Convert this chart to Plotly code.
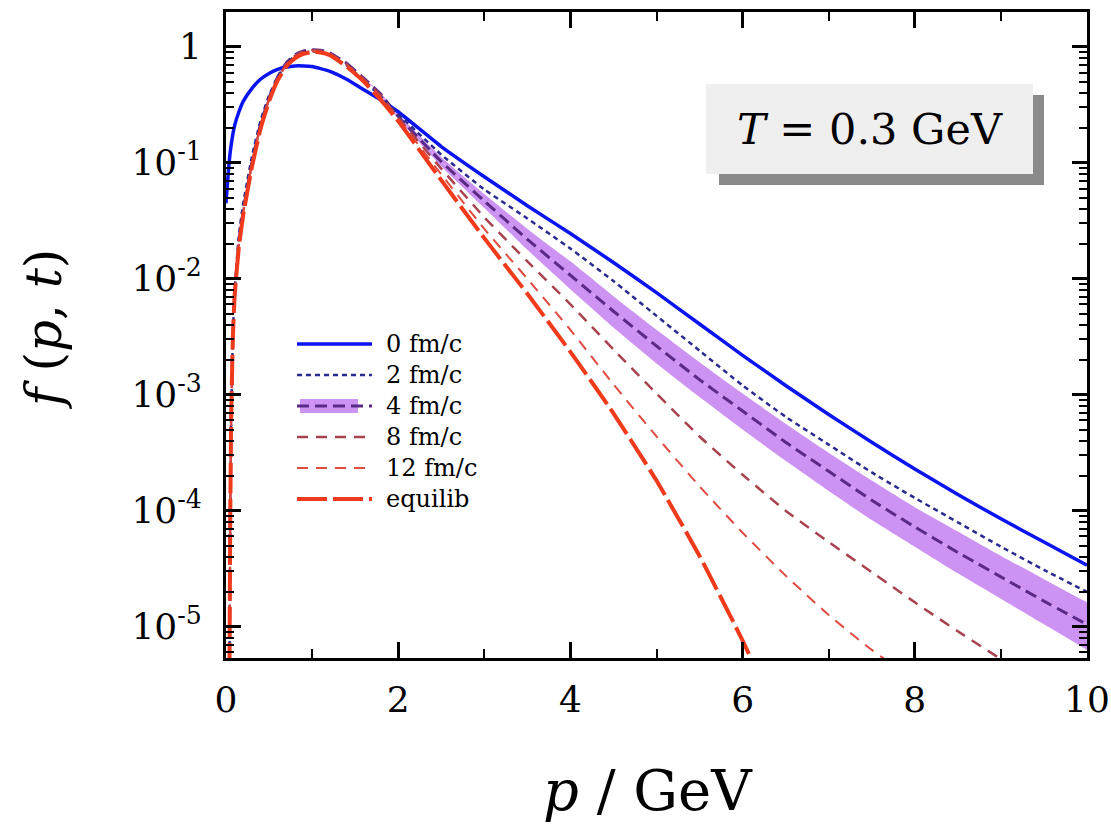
import plotly.graph_objects as go

# ---------------- data (log10 of f) ----------------
p_blue = [0.0, 0.03, 0.05, 0.1, 0.15, 0.2, 0.3, 0.4, 0.5, 0.6, 0.7, 0.8, 0.9, 1.0, 1.2, 1.4, 1.6, 1.8,
          2.0, 2.5, 3.0, 3.5, 4.0, 4.5, 5.0, 5.5, 6.0, 6.5, 7.0, 7.5, 8.0, 8.5, 9.0, 9.5, 10.0]
logf_0fm = [-1.35, -1.05, -0.90, -0.68, -0.56, -0.47, -0.36, -0.28, -0.23, -0.195, -0.175, -0.165, -0.165,
            -0.17, -0.21, -0.28, -0.37, -0.46, -0.56, -0.86, -1.12, -1.37, -1.61, -1.86, -2.12, -2.39,
            -2.66, -2.92, -3.17, -3.41, -3.64, -3.86, -4.07, -4.27, -4.47]

p_grid = [0.04, 0.05, 0.06, 0.08, 0.1, 0.15, 0.2, 0.3, 0.4, 0.5, 0.6, 0.7, 0.8, 0.9, 1.0, 1.1, 1.2, 1.4,
          1.6, 1.8, 2.0, 2.5, 3.0, 3.5, 4.0, 4.5, 5.0, 5.5, 6.0, 6.5, 7.0, 7.5, 8.0, 8.5, 9.0, 9.5, 10.0]
logf_2fm = [-5.4, -4.0, -3.2, -2.5, -2.1, -1.62, -1.35, -0.95, -0.64, -0.42, -0.26, -0.15, -0.08, -0.05,
            -0.04, -0.045, -0.07, -0.16, -0.29, -0.43, -0.58, -0.93, -1.23, -1.48, -1.74, -2.02, -2.32,
            -2.62, -2.92, -3.19, -3.43, -3.67, -3.89, -4.10, -4.31, -4.51, -4.70]
logf_4fm_low = [-5.4, -4.0, -3.2, -2.5, -2.15, -1.68, -1.41, -1.00, -0.67, -0.44, -0.26, -0.14, -0.07,
                -0.035, -0.025, -0.03, -0.05, -0.14]
logf_8fm = [-5.4, -4.0, -3.2, -2.5, -2.15, -1.69, -1.42, -1.01, -0.68, -0.45, -0.27, -0.15, -0.08, -0.04,
            -0.03, -0.035, -0.055, -0.15, -0.28, -0.42, -0.61, -1.05, -1.47, -1.85, -2.22, -2.61, -2.99,
            -3.36, -3.69, -4.00, -4.27, -4.53, -4.79, -5.04, -5.28, -5.52, -5.76]
logf_12fm = [-5.4, -4.0, -3.2, -2.5, -2.15, -1.70, -1.43, -1.02, -0.69, -0.46, -0.28, -0.16, -0.09, -0.05,
             -0.04, -0.045, -0.065, -0.16, -0.29, -0.44, -0.62, -1.10, -1.57, -2.00, -2.44, -2.91, -3.36,
             -3.79, -4.19, -4.56, -4.90, -5.20, -5.46, -5.70, -5.93, -6.15, -6.37]
p_eq = [0.04, 0.05, 0.06, 0.08, 0.1, 0.15, 0.2, 0.3, 0.4, 0.5, 0.6, 0.7, 0.8, 0.9, 1.0, 1.1, 1.2, 1.4,
        1.6, 1.8, 2.0, 2.5, 3.0, 3.5, 4.0, 4.5, 5.0, 5.5, 6.0, 6.5]
logf_eq = [-5.4, -4.0, -3.2, -2.5, -2.15, -1.72, -1.45, -1.04, -0.71, -0.47, -0.29, -0.17, -0.10, -0.06,
           -0.045, -0.05, -0.07, -0.17, -0.30, -0.46, -0.64, -1.15, -1.65, -2.13, -2.63, -3.16, -3.74,
           -4.39, -5.12, -5.92]

# 4 fm/c central curve and its uncertainty band
p_band = [1.4, 1.6, 1.8, 2.0, 2.5, 3.0, 3.5, 4.0, 4.5, 5.0, 5.5, 6.0, 6.5, 7.0, 7.5, 8.0, 8.5, 9.0, 9.5, 10.0]
logf_4fm = [-0.14, -0.27, -0.41, -0.60, -0.99, -1.33, -1.66, -1.97, -2.28, -2.58, -2.87, -3.14, -3.41,
            -3.66, -3.91, -4.14, -4.36, -4.57, -4.78, -4.98]
logf_4fm_up = [-0.14, -0.27, -0.40, -0.58, -0.95, -1.27, -1.57, -1.85, -2.15, -2.44, -2.72, -2.99, -3.25,
               -3.50, -3.74, -3.97, -4.18, -4.39, -4.59, -4.79]
logf_4fm_lo = [-0.14, -0.27, -0.42, -0.62, -1.03, -1.39, -1.75, -2.09, -2.42, -2.73, -3.02, -3.30, -3.57,
               -3.83, -4.08, -4.31, -4.54, -4.76, -4.98, -5.20]

series_names = ["0 fm/c", "2 fm/c", "4 fm/c", "8 fm/c", "12 fm/c", "equilib"]
y_tickvals = [1, 1e-1, 1e-2, 1e-3, 1e-4, 1e-5]
y_ticktext = ["1", "10<sup>-1</sup>", "10<sup>-2</sup>", "10<sup>-3</sup>", "10<sup>-4</sup>", "10<sup>-5</sup>"]
x_tickvals = [0, 2, 4, 6, 8, 10]


def lin(vals):
    return [10 ** v for v in vals]


FONT = "DejaVu Serif"
BAND = "rgba(196,128,240,0.85)"

STYLES = {
    "0 fm/c": ("#0a14f0", 3.5, "solid"),
    "2 fm/c": ("#2a2a90", 2.5, "5px,4px"),
    "4 fm/c": ("#5b2a86", 3, "12px,6px"),
    "8 fm/c": ("#a8424f", 2.5, "11px,8px"),
    "12 fm/c": ("#e04a40", 2, "11px,8px"),
    "equilib": ("#f03a1c", 4, "30px,6px"),
}


def ln(name, smooth=True):
    c, w, d = STYLES[name]
    out = dict(color=c, width=w, dash=d)
    if smooth:
        out.update(shape="spline", smoothing=0.4)
    return out


fig = go.Figure()

fig.add_trace(go.Scatter(x=p_band, y=lin(logf_4fm_lo), mode="lines",
                         line=dict(width=0, color=BAND, shape="spline", smoothing=0.4),
                         showlegend=False, hoverinfo="skip"))
fig.add_trace(go.Scatter(x=p_band, y=lin(logf_4fm), mode="lines", name="4 fm/c", fill="tonexty",
                         fillcolor=BAND, line=ln("4 fm/c"), showlegend=False))
fig.add_trace(go.Scatter(x=p_band, y=lin(logf_4fm_up), mode="lines",
                         line=dict(width=0, color=BAND, shape="spline", smoothing=0.4),
                         fill="tonexty", fillcolor=BAND, showlegend=False, hoverinfo="skip"))
fig.add_trace(go.Scatter(x=p_grid[:len(logf_4fm_low)], y=lin(logf_4fm_low), mode="lines",
                         line=ln("4 fm/c"), showlegend=False, name="4 fm/c"))
fig.add_trace(go.Scatter(x=p_blue, y=lin(logf_0fm), mode="lines", name="0 fm/c", line=ln("0 fm/c"),
                         showlegend=False))
fig.add_trace(go.Scatter(x=p_grid, y=lin(logf_2fm), mode="lines", name="2 fm/c", line=ln("2 fm/c"),
                         showlegend=False))
fig.add_trace(go.Scatter(x=p_grid, y=lin(logf_8fm), mode="lines", name="8 fm/c", line=ln("8 fm/c"),
                         showlegend=False))
fig.add_trace(go.Scatter(x=p_grid, y=lin(logf_12fm), mode="lines", name="12 fm/c", line=ln("12 fm/c"),
                         showlegend=False))
fig.add_trace(go.Scatter(x=p_eq, y=lin(logf_eq), mode="lines", name="equilib", line=ln("equilib"),
                         showlegend=False))

# the page body margin is removed (post_script below), so page pixels == figure pixels
W, H = 1111, 832
PLOT_L, PLOT_R, PLOT_T, PLOT_B = 226, 1087, 12, 658      # plot frame in page pixels
L, R, T, B = PLOT_L, W - PLOT_R, PLOT_T, H - PLOT_B


def px_x(px):
    return (px - PLOT_L) / (PLOT_R - PLOT_L)


def px_y(py):
    return (PLOT_B - py) / (PLOT_B - PLOT_T)


shapes = [
    dict(type="rect", xref="paper", yref="paper", x0=px_x(719), x1=px_x(1044), y0=px_y(185),
         y1=px_y(95), fillcolor="#8a8a8a", line=dict(width=0), layer="above"),
    dict(type="rect", xref="paper", yref="paper", x0=px_x(706), x1=px_x(1033), y0=px_y(174),
         y1=px_y(84), fillcolor="#efefef", line=dict(width=0), layer="above"),
]
annotations = [
    dict(text="<i>T</i> = 0.3 GeV", xref="paper", yref="paper", x=px_x(870), y=px_y(129),
         xanchor="center", yanchor="middle", showarrow=False,
         font=dict(family=FONT, size=43, color="black")),
    dict(text="<i>p</i> / GeV", xref="paper", yref="paper", x=px_x(648), y=px_y(790),
         xanchor="center", yanchor="middle", showarrow=False,
         font=dict(family=FONT, size=56, color="black")),
    dict(text="<i>f</i> (<i>p</i>, <i>t</i>)", xref="paper", yref="paper", x=px_x(44),
         y=px_y(330), xanchor="center", yanchor="middle", showarrow=False, textangle=-90,
         font=dict(family=FONT, size=50, color="black")),
]

leg_x0, leg_x1, leg_text_x = 297, 372, 384
leg_y0, leg_pitch = 344, 31
for i, name in enumerate(series_names):
    yy = px_y(leg_y0 + i * leg_pitch)
    if name == "4 fm/c":
        shapes.append(dict(type="rect", xref="paper", yref="paper", x0=px_x(300), x1=px_x(358),
                           y0=yy - 7 / (PLOT_B - PLOT_T), y1=yy + 7 / (PLOT_B - PLOT_T),
                           fillcolor=BAND, line=dict(width=0), layer="above"))
    c, w, d = STYLES[name]
    shapes.append(dict(type="line", xref="paper", yref="paper", x0=px_x(leg_x0), x1=px_x(leg_x1),
                       y0=yy, y1=yy, line=dict(color=c, width=w, dash=d), layer="above"))
    annotations.append(dict(text=name, xref="paper", yref="paper", x=px_x(leg_text_x), y=yy,
                            xanchor="left", yanchor="middle", showarrow=False,
                            font=dict(family=FONT, size=24, color="black")))

fig.update_layout(
    width=W, height=H,
    margin=dict(l=L, r=R, t=T, b=B, autoexpand=False),
    paper_bgcolor="white", plot_bgcolor="white",
    font=dict(family=FONT, color="black"),
    showlegend=False,
    xaxis=dict(range=[0, 10], tickvals=x_tickvals, ticks="inside", ticklen=16, tickwidth=2.5,
               tickcolor="black", showline=True, linecolor="black", linewidth=3, mirror="allticks",
               showgrid=False, zeroline=False, tickfont=dict(family=FONT, size=36),
               ticklabelstandoff=8,
               minor=dict(dtick=1, ticks="inside", ticklen=9, tickwidth=2, tickcolor="black",
                          showgrid=False)),
    yaxis=dict(type="log", range=[-5.27, 0.30], tickvals=y_tickvals, ticktext=y_ticktext,
               ticks="inside", ticklen=15, tickwidth=2.5, tickcolor="black", showline=True,
               linecolor="black", linewidth=3, mirror="allticks", showgrid=False, zeroline=False,
               tickfont=dict(family=FONT, size=36), ticklabelstandoff=14,
               minor=dict(dtick="D1", ticks="inside", ticklen=8, tickwidth=1.8, tickcolor="black",
                          showgrid=False)),
    shapes=shapes,
    annotations=annotations,
)

fig.write_html("out.html", config={"displayModeBar": False},
               post_script="document.body.style.margin='0px';document.body.style.overflow='hidden';")
